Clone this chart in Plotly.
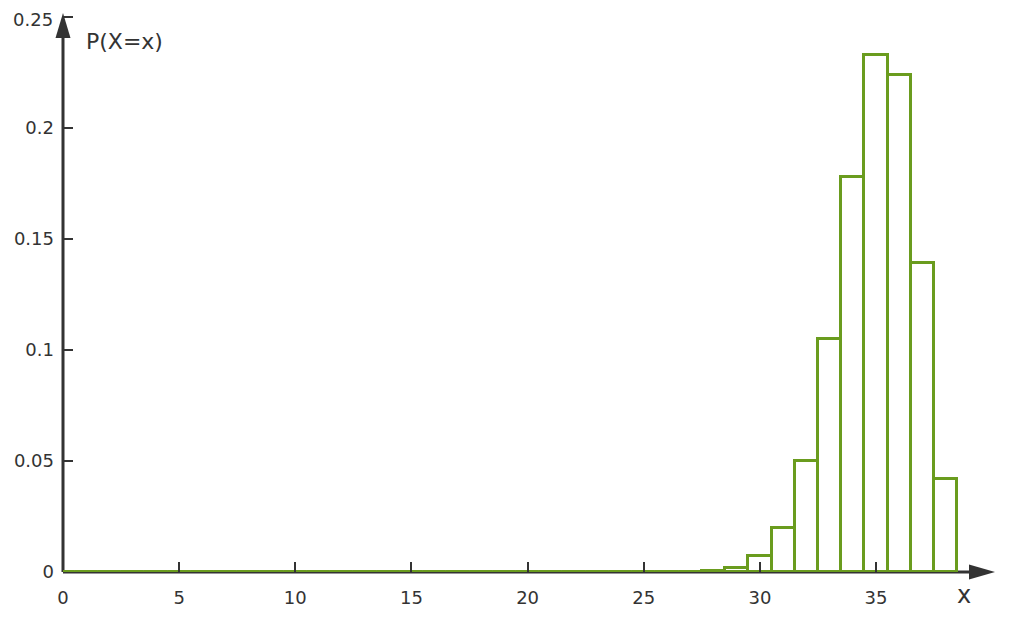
import plotly.graph_objects as go

# ---- data ----
x_values = list(range(0, 39))
probabilities = [0.0] * 27 + [
    0.0001,  # 27
    0.0005,  # 28
    0.002,   # 29
    0.007,   # 30
    0.020,   # 31
    0.050,   # 32
    0.105,   # 33
    0.178,   # 34
    0.233,   # 35
    0.224,   # 36
    0.139,   # 37
    0.042,   # 38
]
x_tickvals = [0, 5, 10, 15, 20, 25, 30, 35]
x_ticktext = ["0", "5", "10", "15", "20", "25", "30", "35"]
y_tickvals = [0, 0.05, 0.1, 0.15, 0.2, 0.25]
y_ticktext = ["0", "0.05", "0.1", "0.15", "0.2", "0.25"]

GREEN = "#6a9c1e"
AXIS = "#333333"
TEXT = "#333333"
FONT = "DejaVu Sans"

# the page body has an 8px margin, so the figure is a bit smaller than the window
W, H = 1004, 604
ML, MR, MT, MB = 55, 17, 5, 40
px_per_x = 23.23
px_per_y = 2220.0
PW, PH = W - ML - MR, H - MT - MB
x_max = PW / px_per_x
y_max = PH / px_per_y

fig = go.Figure()

fig.add_trace(go.Bar(
    x=x_values,
    y=probabilities,
    width=1,
    marker=dict(color="white", line=dict(color=GREEN, width=3)),
    hoverinfo="x+y",
    showlegend=False,
))

# green baseline along the zero bars
fig.add_trace(go.Scatter(
    x=[x_values[0], x_values[-1] + 0.5],
    y=[0, 0],
    mode="lines",
    line=dict(color=GREEN, width=3),
    cliponaxis=False,
    hoverinfo="skip",
    showlegend=False,
))

shapes = [
    # x axis line
    dict(type="line", xref="paper", yref="paper", x0=0, y0=0, x1=1 - 10 / PW, y1=0,
         line=dict(color=AXIS, width=3), layer="below"),
    # y axis line
    dict(type="line", xref="paper", yref="paper", x0=0, y0=0, x1=0, y1=1 - 10 / PH,
         line=dict(color=AXIS, width=3), layer="below"),
    # arrow heads
    dict(type="path", xref="paper", yref="paper", xsizemode="pixel", ysizemode="pixel",
         xanchor=1, yanchor=0, path="M0,0 L-26,7.5 L-26,-7.5 Z",
         fillcolor=AXIS, line=dict(width=0), layer="above"),
    dict(type="path", xref="paper", yref="paper", xsizemode="pixel", ysizemode="pixel",
         xanchor=0, yanchor=1, path="M0,0 L-7.5,-25 L7.5,-25 Z",
         fillcolor=AXIS, line=dict(width=0), layer="above"),
]

# the topmost tick label sits right at the top edge; nudge it down slightly
axis_ticktext = y_ticktext[:-1] + [""]

annotations = [
    dict(text=y_ticktext[-1], xref="paper", yref="y", x=0, y=y_tickvals[-1],
         xanchor="right", yanchor="middle", xshift=-8, yshift=-2, showarrow=False,
         font=dict(family=FONT, size=18, color=TEXT)),
    dict(text="P(X=x)", xref="paper", yref="paper", x=21 / PW, y=1 - 28 / PH,
         xanchor="left", yanchor="middle", showarrow=False,
         font=dict(family=FONT, size=22, color=TEXT)),
    dict(text="x", xref="paper", yref="paper", x=1 - 31 / PW, y=-23 / PH,
         xanchor="center", yanchor="middle", showarrow=False,
         font=dict(family=FONT, size=24, color=TEXT)),
]

fig.update_layout(
    width=W, height=H,
    margin=dict(l=ML, r=MR, t=MT, b=MB, pad=0, autoexpand=False),
    plot_bgcolor="white", paper_bgcolor="white",
    bargap=0,
    shapes=shapes,
    annotations=annotations,
    font=dict(family=FONT, color=TEXT),
    xaxis=dict(
        range=[0, x_max], showgrid=False, zeroline=False, showline=False,
        automargin=False,
        tickmode="array", tickvals=x_tickvals, ticktext=x_ticktext,
        ticks="inside", ticklen=10, tickwidth=2, tickcolor=AXIS,
        tickfont=dict(family=FONT, size=18, color=TEXT),
        ticklabelstandoff=13,
        ticklabeloverflow="allow",
    ),
    yaxis=dict(
        range=[0, y_max], showgrid=False, zeroline=False, showline=False,
        automargin=False,
        tickmode="array", tickvals=y_tickvals, ticktext=axis_ticktext,
        ticks="inside", ticklen=10, tickwidth=2, tickcolor=AXIS,
        tickfont=dict(family=FONT, size=18, color=TEXT),
        ticklabelstandoff=8,
        ticklabeloverflow="allow",
    ),
)

fig.write_html("out.html")
